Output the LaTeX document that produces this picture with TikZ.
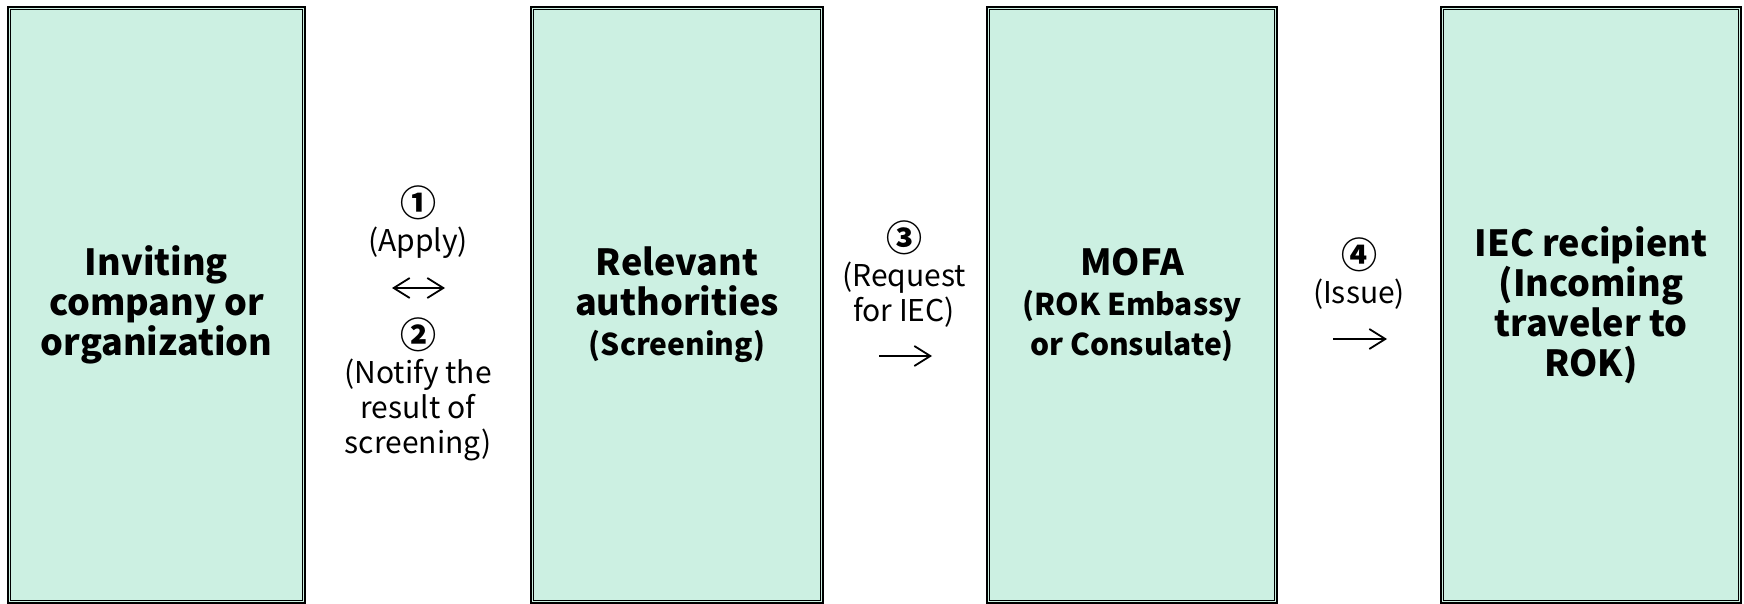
\documentclass[tikz,border=0pt]{standalone}
\usepackage{fontspec}
\setmainfont{Noto Sans CJK KR}
\usetikzlibrary{arrows.meta,positioning}
\definecolor{mintfill}{RGB}{204,240,226}
\tikzset{
    stagebox/.style={draw=black, line width=1pt, fill=mintfill, inner sep=0pt, minimum height=298pt},
    boxtitle/.style={font=\bfseries\fontsize{18}{20}\selectfont, align=center},
    steplabel/.style={font=\fontsize{15}{17.5}\selectfont, align=center},
    flowtip/.tip={Straight Barb[length=8pt,width=10pt]},
    flow/.style={-flowtip, line width=0.9pt}
}
\newcommand{\boxnote}[1]{{\fontsize{15}{17}\selectfont #1}}
\newcommand{\stepno}[1]{{\bfseries\fontsize{18}{17.5}\selectfont #1}}

\begin{document}
\begin{tikzpicture}[x=0.5pt, y=-0.5pt]
    \useasboundingbox (0,0) rectangle (1744,604);

    \node[stagebox, minimum width=148.5pt] (inviting) at (156.5,305) {};
    \node[stagebox, minimum width=146pt] (authority) at (677,305) {};
    \node[stagebox, minimum width=145pt] (mofa) at (1132,305) {};
    \node[stagebox, minimum width=150pt] (recipient) at (1591,305) {};
    \foreach \b in {inviting, authority, mofa, recipient}
        \draw[line width=0.5pt] ([xshift=1.75pt,yshift=-1.75pt]\b.north west) rectangle ([xshift=-1.75pt,yshift=1.75pt]\b.south east);

    \node[boxtitle] (inviting-text) at (inviting) {Inviting\\company or\\organization};
    \node[boxtitle] (authority-text) at (authority) {Relevant\\authorities\\\boxnote{(Screening)}};
    \node[boxtitle] (mofa-text) at (mofa) {MOFA\\\boxnote{(ROK Embassy}\\\boxnote{or Consulate)}};
    \node[boxtitle] (recipient-text) at (recipient) {IEC recipient\\(Incoming\\traveler to\\ROK)};

    % steps between the boxes
    \node[steplabel] (apply) at (418,222) {\stepno{①}\\(Apply)};
    \coordinate (apply-l) at (392,288);
    \coordinate (apply-r) at (445,288);
    \draw[flow, flowtip-flowtip] (apply-l) -- (apply-r);
    \node[steplabel] (notify) at (418,389) {\stepno{②}\\(Notify the\\result of\\screening)};

    \node[steplabel] (request) at (904,274) {\stepno{③}\\(Request\\for IEC)};
    \coordinate (request-l) at (879,356);
    \coordinate (request-r) at (932,356);
    \draw[flow] (request-l) -- (request-r);

    \node[steplabel] (issue) at (1359,274) {\stepno{④}\\(Issue)};
    \coordinate (issue-l) at (1333,339);
    \coordinate (issue-r) at (1387,339);
    \draw[flow] (issue-l) -- (issue-r);
\end{tikzpicture}
\end{document}
